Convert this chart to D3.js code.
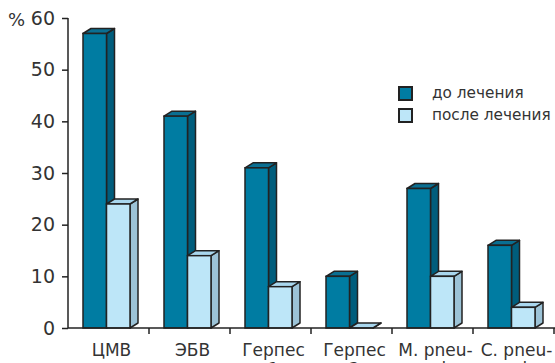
<!DOCTYPE html>
<html>
<head>
<meta charset="utf-8">
<script src="https://cdn.jsdelivr.net/npm/d3@7"></script>
<style>
  body { margin: 0; background: #fff; }
  svg { display: block; }
  text { font-family: 'DejaVu Sans', sans-serif; fill: #333; }
</style>
</head>
<body>
<div id="chart"></div>
<script>
var categories = ['ЦМВ', 'ЭБВ', 'Герпес 1', 'Герпес 2', 'M. pneu-moniae', 'C. pneu-moniae'];
var labelLines = [['ЦМВ'], ['ЭБВ'], ['Герпес', '1'], ['Герпес', '2'], ['M. pneu-', 'moniae'], ['C. pneu-', 'moniae']];
var series = ['до лечения', 'после лечения'];
var before = [57, 41, 31, 10, 27, 16];
var after = [24, 14, 8, 0, 10, 4];
var yTicks = [0, 10, 20, 30, 40, 50, 60];

var colors = {
    'до лечения': { front: '#007ca2', side: '#005d7c', top: '#0a6f92' },
    'после лечения': { front: '#bde6f8', side: '#9cc3d7', top: '#a9d7ee' }
};

var width = 555, height = 363;
var dx = 8, dy = 5;

var svg = d3.select('#chart')
    .append('svg')
    .attr('width', width)
    .attr('height', height);

var xScale = d3.scaleBand()
    .domain(categories)
    .range([68, 554]);

var xInner = d3.scaleBand()
    .domain(series)
    .range([15, 62]);

var yScale = d3.scaleLinear()
    .domain([0, 60])
    .range([328, 18]);

var data = [];
for (let i = 0; i < categories.length; i++) {
    data.push({ cat: categories[i], s: series[0], v: before[i] });
    data.push({ cat: categories[i], s: series[1], v: after[i] });
}

// bars
var bars = svg.append('g').selectAll('g')
    .data(data)
    .enter()
    .append('g');

bars.each(function(d) {
    var g = d3.select(this);
    var x0 = xScale(d.cat) + xInner(d.s);
    var x1 = x0 + xInner.bandwidth();
    var y0 = yScale(0);
    var y1 = yScale(d.v);
    var c = colors[d.s];
    // side
    g.append('path')
        .attr('d', 'M' + x1 + ',' + y1 + 'L' + (x1 + dx) + ',' + (y1 - dy) + 'L' + (x1 + dx) + ',' + (y0 - dy) + 'L' + x1 + ',' + y0 + 'Z')
        .attr('fill', c.side)
        .attr('stroke', '#222')
        .attr('stroke-width', 1.5)
        .attr('stroke-linejoin', 'round');
    // top
    g.append('path')
        .attr('d', 'M' + x0 + ',' + y1 + 'L' + (x0 + dx) + ',' + (y1 - dy) + 'L' + (x1 + dx) + ',' + (y1 - dy) + 'L' + x1 + ',' + y1 + 'Z')
        .attr('fill', c.top)
        .attr('stroke', '#222')
        .attr('stroke-width', 1.5)
        .attr('stroke-linejoin', 'round');
    // front
    if (d.v > 0) {
        g.append('rect')
            .attr('x', x0)
            .attr('y', y1)
            .attr('width', x1 - x0)
            .attr('height', y0 - y1)
            .attr('fill', c.front)
            .attr('stroke', '#222')
            .attr('stroke-width', 1.5);
    }
});

// y axis
var yAxis = svg.append('g')
    .attr('transform', 'translate(68,0)')
    .call(d3.axisLeft(yScale).tickValues(yTicks).tickSize(6).tickPadding(7));
yAxis.select('.domain').attr('stroke', '#222').attr('stroke-width', 1.5)
    .attr('d', 'M0,' + yScale(60) + 'V' + yScale(0));
yAxis.selectAll('.tick line').attr('stroke', '#222').attr('stroke-width', 1.5);
yAxis.selectAll('.tick text')
    .attr('font-size', '19px')
    .attr('font-family', 'DejaVu Sans, sans-serif')
    .attr('fill', '#333');

svg.append('text')
    .attr('x', 8)
    .attr('y', 26)
    .attr('font-size', '18px')
    .text('%');

// x axis
var xg = svg.append('g');
xg.append('line')
    .attr('x1', 68)
    .attr('x2', 555)
    .attr('y1', yScale(0))
    .attr('y2', yScale(0))
    .attr('stroke', '#222')
    .attr('stroke-width', 1.5);

xg.selectAll('.xtick')
    .data(categories)
    .enter()
    .append('line')
    .attr('x1', d => xScale(d) + xScale.bandwidth())
    .attr('x2', d => xScale(d) + xScale.bandwidth())
    .attr('y1', yScale(0))
    .attr('y2', yScale(0) + 6)
    .attr('stroke', '#222')
    .attr('stroke-width', 1.5);

xg.selectAll('.xlabel')
    .data(categories)
    .enter()
    .append('text')
    .attr('text-anchor', 'middle')
    .attr('font-size', '17px')
    .attr('font-family', 'DejaVu Sans Condensed, DejaVu Sans, sans-serif')
    .attr('transform', d => 'translate(' + (xScale(d) + xScale.bandwidth() / 2 + 3) + ',' + 356 + ')')
    .each(function(d, i) {
        var t = d3.select(this);
        labelLines[i].forEach(function(line, j) {
            t.append('tspan')
                .attr('x', 0)
                .attr('y', j * 19)
                .text(line);
        });
    });

// legend
var legend = svg.append('g')
    .attr('transform', 'translate(399,87)');

legend.selectAll('rect')
    .data(series)
    .enter()
    .append('rect')
    .attr('x', 0)
    .attr('y', (d, i) => i * 22)
    .attr('width', 13)
    .attr('height', 13)
    .attr('fill', d => colors[d].front)
    .attr('stroke', '#222')
    .attr('stroke-width', 2);

legend.selectAll('text')
    .data(series)
    .enter()
    .append('text')
    .attr('x', 33)
    .attr('y', (d, i) => i * 22 + 11)
    .attr('font-size', '15.3px')
    .text(d => d);
</script>
</body>
</html>
